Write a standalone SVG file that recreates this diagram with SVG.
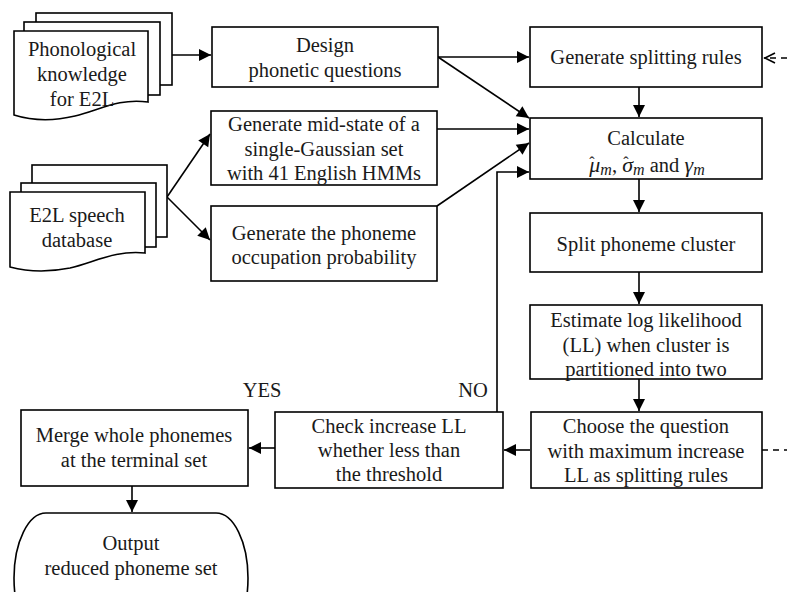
<svg xmlns="http://www.w3.org/2000/svg" width="787" height="592" viewBox="0 0 787 592">
<style>
.box{fill:#fff;stroke:#000;stroke-width:1.6}
.t{font-family:'Liberation Serif','DejaVu Serif','Times New Roman',serif;font-size:20.5px;fill:#1a1a1a;text-anchor:middle}
.c{fill:none;stroke:#000;stroke-width:1.6}
.d{fill:none;stroke:#000;stroke-width:1.6;stroke-dasharray:6,5}
.m{font-style:italic;font-size:22px}
.s{font-style:italic;font-size:16px}
</style>
<defs>
<marker id="ah" markerUnits="userSpaceOnUse" markerWidth="14" markerHeight="14" viewBox="0 0 14 14" refX="13" refY="7" orient="auto">
<path d="M1,1 L13,7 L1,13 Z" fill="#000"/>
</marker>
<marker id="oh" markerUnits="userSpaceOnUse" markerWidth="14" markerHeight="14" viewBox="0 0 14 14" refX="13" refY="7" orient="auto">
<path d="M2,2 L12,7 L2,12" fill="none" stroke="#000" stroke-width="1.6"/>
</marker>
</defs>

<g id="connectors">
<line class="c" x1="172" y1="55" x2="211" y2="55" marker-end="url(#ah)"/>
<line class="c" x1="438" y1="57" x2="529" y2="57" marker-end="url(#ah)"/>
<line class="c" x1="438" y1="57" x2="529" y2="118" marker-end="url(#ah)"/>
<line class="c" x1="437" y1="129" x2="529" y2="129" marker-end="url(#ah)"/>
<line class="c" x1="437" y1="206" x2="529" y2="143" marker-end="url(#ah)"/>
<polyline class="c" points="497,412 497,172 529,172" marker-end="url(#ah)"/>
<line class="c" x1="167" y1="197" x2="210" y2="134" marker-end="url(#ah)"/>
<line class="c" x1="167" y1="197" x2="210" y2="240" marker-end="url(#ah)"/>
<line class="c" x1="639" y1="87" x2="639" y2="117" marker-end="url(#ah)"/>
<line class="c" x1="639" y1="179" x2="639" y2="212" marker-end="url(#ah)"/>
<line class="c" x1="639" y1="272" x2="639" y2="304" marker-end="url(#ah)"/>
<line class="c" x1="639" y1="379" x2="639" y2="411" marker-end="url(#ah)"/>
<line class="c" x1="530" y1="450" x2="504" y2="450" marker-end="url(#ah)"/>
<line class="c" x1="275" y1="448" x2="249" y2="448" marker-end="url(#ah)"/>
<line class="c" x1="132" y1="486" x2="132" y2="512" marker-end="url(#ah)"/>
<line class="d" x1="787" y1="58" x2="764" y2="58" marker-end="url(#oh)"/>
<line class="d" x1="762" y1="450" x2="787" y2="450"/>
</g>

<g id="phonological">
<rect class="box" x="36" y="13" width="136" height="72"/>
<rect class="box" x="24" y="22" width="136" height="73"/>
<path class="box" d="M14,31 H148 V102 C118,98 100,110 75,116 C50,122 30,120 14,115 Z"/>
<text class="t" x="82" y="56">Phonological</text>
<text class="t" x="82" y="81">knowledge</text>
<text class="t" x="82" y="106">for E2L</text>
</g>

<g id="e2l">
<rect class="box" x="32" y="165" width="135" height="72"/>
<rect class="box" x="21" y="183" width="135" height="64"/>
<path class="box" d="M10,192 H145 V253 C115,250 95,262 70,268 C45,273 25,271 10,267 Z"/>
<text class="t" x="77" y="222">E2L speech</text>
<text class="t" x="77" y="247">database</text>
</g>

<g id="design">
<rect class="box" x="212" y="27" width="226" height="60"/>
<text class="t" x="325" y="52">Design</text>
<text class="t" x="325" y="77">phonetic questions</text>
</g>

<g id="midstate">
<rect class="box" x="211" y="111" width="226" height="74"/>
<text class="t" x="324" y="131">Generate mid-state of a</text>
<text class="t" x="324" y="156">single-Gaussian set</text>
<text class="t" x="324" y="180">with 41 English HMMs</text>
</g>

<g id="occupation">
<rect class="box" x="211" y="206" width="226" height="75"/>
<text class="t" x="324" y="240">Generate the phoneme</text>
<text class="t" x="324" y="264">occupation probability</text>
</g>

<g id="splitrules">
<rect class="box" x="530" y="27" width="232" height="60"/>
<text class="t" x="646" y="64">Generate splitting rules</text>
</g>

<g id="calculate">
<rect class="box" x="530" y="118" width="232" height="61"/>
<text class="t" x="646" y="145">Calculate</text>
<text class="t" x="647" y="172"><tspan class="m">μ</tspan><tspan class="s" dy="3">m</tspan><tspan dy="-3">, </tspan><tspan class="m">σ</tspan><tspan class="s" dy="3">m</tspan><tspan dy="-3"> and </tspan><tspan class="m">γ</tspan><tspan class="s" dy="3">m</tspan><tspan x="592" y="168" font-size="16">ˆ</tspan><tspan x="626" y="168" font-size="16">ˆ</tspan></text>
</g>

<g id="split">
<rect class="box" x="530" y="213" width="232" height="59"/>
<text class="t" x="646" y="251">Split phoneme cluster</text>
</g>

<g id="estimate">
<rect class="box" x="530" y="305" width="232" height="74"/>
<text class="t" x="646" y="327">Estimate log likelihood</text>
<text class="t" x="646" y="352">(LL) when cluster is</text>
<text class="t" x="646" y="376">partitioned into two</text>
</g>

<g id="choose">
<rect class="box" x="531" y="412" width="231" height="76"/>
<text class="t" x="646" y="433">Choose the question</text>
<text class="t" x="646" y="458">with maximum increase</text>
<text class="t" x="646" y="482">LL as splitting rules</text>
</g>

<g id="check">
<rect class="box" x="275" y="412" width="228" height="76"/>
<text class="t" x="389" y="433">Check increase LL</text>
<text class="t" x="389" y="457">whether less than</text>
<text class="t" x="389" y="481">the threshold</text>
</g>

<g id="merge">
<rect class="box" x="21" y="410" width="227" height="76"/>
<text class="t" x="134" y="442">Merge whole phonemes</text>
<text class="t" x="134" y="467">at the terminal set</text>
</g>

<g id="output">
<rect class="box" x="14" y="513" width="234" height="130" rx="32" ry="66"/>
<text class="t" x="131" y="550">Output</text>
<text class="t" x="131" y="575">reduced phoneme set</text>
</g>

<g id="labels">
<text class="t" x="262" y="397">YES</text>
<text class="t" x="473" y="397">NO</text>
</g>
</svg>
